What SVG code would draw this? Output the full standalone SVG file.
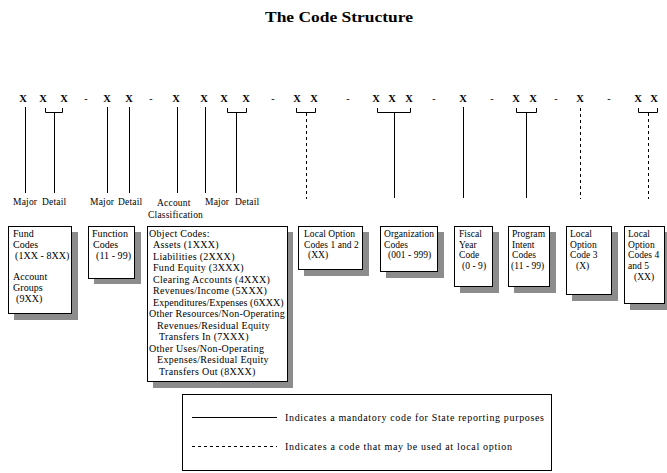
<svg xmlns="http://www.w3.org/2000/svg" width="667" height="473" viewBox="0 0 667 473">
<style>
text{font-family:"Liberation Serif","Times New Roman",serif;fill:#000}
.t{font-size:15px;font-weight:bold}
.x{font-size:10.5px;font-weight:bold;text-anchor:middle}
.d{font-size:10px;text-anchor:middle}
.lb{font-size:9.5px;letter-spacing:0.2px}
.bx{font-size:10px;letter-spacing:0.05px}
.rb{font-size:9.5px;letter-spacing:0.05px}
.ob{font-size:10px;letter-spacing:0.3px}
.lg{font-size:10px}
.box{fill:#fff;stroke:#000;stroke-width:1}
.sh{fill:#8c8c8c}
.s{stroke:#000;stroke-width:1;fill:none}
.ds{stroke:#000;stroke-width:1;fill:none;stroke-dasharray:3 3}
</style>
<rect width="667" height="473" fill="#fff"/>
<text class="t" x="339" y="22" text-anchor="middle" textLength="148" lengthAdjust="spacingAndGlyphs">The Code Structure</text>

<g id="code-row">
<text class="x" x="23" y="102">X</text><text class="x" x="43" y="102">X</text><text class="x" x="64" y="102">X</text>
<text class="d" x="86" y="102">-</text>
<text class="x" x="107" y="102">X</text><text class="x" x="129" y="102">X</text>
<text class="d" x="151" y="102">-</text>
<text class="x" x="176" y="102">X</text><text class="x" x="204" y="102">X</text><text class="x" x="224" y="102">X</text><text class="x" x="246" y="102">X</text>
<text class="d" x="273" y="102">-</text>
<text class="x" x="297" y="102">X</text><text class="x" x="314" y="102">X</text>
<text class="d" x="348" y="102">-</text>
<text class="x" x="376" y="102">X</text><text class="x" x="392" y="102">X</text><text class="x" x="409" y="102">X</text>
<text class="d" x="434" y="102">-</text>
<text class="x" x="463" y="102">X</text>
<text class="d" x="492" y="102">-</text>
<text class="x" x="516" y="102">X</text><text class="x" x="533" y="102">X</text>
<text class="d" x="556" y="102">-</text>
<text class="x" x="580" y="102">X</text>
<text class="d" x="609" y="102">-</text>
<text class="x" x="638" y="102">X</text><text class="x" x="654" y="102">X</text>
</g>

<g id="connectors">
<path class="s" d="M25.5 107V193"/>
<path class="s" d="M45.5 108V112.5H62.5V108M54.5 112.5V193"/>
<path class="s" d="M107.5 107V193"/>
<path class="s" d="M129.5 107V193"/>
<path class="s" d="M177.5 107V193"/>
<path class="s" d="M205.5 107V193"/>
<path class="s" d="M227.5 108V112.5H246.5V108M236.5 112.5V193"/>
<path class="s" d="M296.5 108V112.5H315.5V108"/>
<path class="ds" d="M306.5 113V199"/>
<path class="s" d="M377.5 108V112.5H410.5V108M394.5 112.5V198"/>
<path class="s" d="M463.5 107V198"/>
<path class="s" d="M516.5 108V112.5H536.5V108M526.5 112.5V198"/>
<path class="ds" d="M580.5 108V199"/>
<path class="s" d="M638.5 108V112.5H657.5V108"/>
<path class="ds" d="M648.5 113V199"/>
</g>

<g id="labels">
<text class="lb" x="13" y="205">Major</text><text class="lb" x="42" y="205">Detail</text>
<text class="lb" x="90" y="205">Major</text><text class="lb" x="118" y="205">Detail</text>
<text class="lb" x="157" y="206">Account</text><text class="lb" x="148" y="218">Classification</text>
<text class="lb" x="205" y="205">Major</text><text class="lb" x="235" y="205">Detail</text>
</g>

<g id="fund-codes">
<rect class="sh" x="14" y="232" width="64" height="88"/>
<rect class="box" x="8.5" y="226.5" width="63" height="87"/>
<text class="bx" x="13" y="236.5">Fund</text>
<text class="bx" x="13" y="247.5">Codes</text>
<text class="bx" x="15" y="258.5">(1XX - 8XX)</text>
<text class="bx" x="13" y="279.5">Account</text>
<text class="bx" x="13" y="290.5">Groups</text>
<text class="bx" x="16" y="301.5">(9XX)</text>
</g>

<g id="function-codes">
<rect class="sh" x="94" y="232" width="47" height="52"/>
<rect class="box" x="88.5" y="226.5" width="46" height="52"/>
<text class="bx" x="92" y="236.5">Function</text>
<text class="bx" x="93" y="247.5">Codes</text>
<text class="bx" x="96" y="258.5">(11 - 99)</text>
</g>

<g id="object-codes">
<rect class="sh" x="153" y="232" width="140" height="156"/>
<rect class="box" x="147.5" y="226.5" width="140" height="155"/>
<text class="ob" x="149" y="236.5">Object Codes:</text>
<text class="ob" x="153" y="248">Assets (1XXX)</text>
<text class="ob" x="153" y="259.5">Liabilities (2XXX)</text>
<text class="ob" x="153" y="271">Fund Equity (3XXX)</text>
<text class="ob" x="153" y="282.5">Clearing Accounts (4XXX)</text>
<text class="ob" x="153" y="294">Revenues/Income (5XXX)</text>
<text class="ob" x="153" y="305.5" textLength="131" lengthAdjust="spacing">Expenditures/Expenses (6XXX)</text>
<text class="ob" x="149" y="317" textLength="136" lengthAdjust="spacing">Other Resources/Non-Operating</text>
<text class="ob" x="157" y="328.5">Revenues/Residual Equity</text>
<text class="ob" x="159" y="340">Transfers In (7XXX)</text>
<text class="ob" x="149" y="351.5">Other Uses/Non-Operating</text>
<text class="ob" x="157" y="363">Expenses/Residual Equity</text>
<text class="ob" x="159" y="374.5">Transfers Out (8XXX)</text>
</g>

<g id="local-option-1-2">
<rect class="sh" x="304" y="232" width="65" height="44"/>
<rect class="box" x="298.5" y="226.5" width="64" height="43"/>
<text class="rb" x="304" y="236.5">Local Option</text>
<text class="rb" x="304" y="247.5">Codes 1 and 2</text>
<text class="rb" x="308" y="258">(XX)</text>
</g>

<g id="organization-codes">
<rect class="sh" x="386" y="232" width="58" height="46"/>
<rect class="box" x="380.5" y="226.5" width="57" height="45"/>
<text class="rb" x="384" y="236.5">Organization</text>
<text class="rb" x="384" y="247.5">Codes</text>
<text class="rb" x="388" y="258">(001 - 999)</text>
</g>

<g id="fiscal-year-code">
<rect class="sh" x="460" y="232" width="39" height="61"/>
<rect class="box" x="454.5" y="226.5" width="38" height="60"/>
<text class="rb" x="459" y="236.5">Fiscal</text>
<text class="rb" x="459" y="247.5">Year</text>
<text class="rb" x="459" y="258">Code</text>
<text class="rb" x="462" y="269">(0 - 9)</text>
</g>

<g id="program-intent-codes">
<rect class="sh" x="514" y="232" width="42" height="61"/>
<rect class="box" x="508.5" y="226.5" width="41" height="60"/>
<text class="rb" x="512" y="236.5">Program</text>
<text class="rb" x="512" y="247.5">Intent</text>
<text class="rb" x="512" y="258">Codes</text>
<text class="rb" x="511" y="269">(11 - 99)</text>
</g>

<g id="local-option-3">
<rect class="sh" x="572" y="232" width="46" height="69"/>
<rect class="box" x="566.5" y="226.5" width="45" height="68"/>
<text class="rb" x="570" y="236.5">Local</text>
<text class="rb" x="570" y="247.5">Option</text>
<text class="rb" x="570" y="258">Code 3</text>
<text class="rb" x="576" y="269">(X)</text>
</g>

<g id="local-option-4-5">
<rect class="sh" x="630" y="232" width="41" height="78"/>
<rect class="box" x="624.5" y="226.5" width="40" height="77"/>
<text class="rb" x="628" y="236.5">Local</text>
<text class="rb" x="628" y="247.5">Option</text>
<text class="rb" x="628" y="258">Codes 4</text>
<text class="rb" x="628" y="269">and 5</text>
<text class="rb" x="634" y="280">(XX)</text>
</g>

<g id="legend">
<rect class="box" x="182.5" y="394.5" width="369" height="76"/>
<path class="s" d="M192 417.5H277"/>
<path class="ds" d="M192 446.5H277" stroke-dasharray="4 4"/>
<text class="lg" x="285" y="421" textLength="259" lengthAdjust="spacing">Indicates a mandatory code for State reporting purposes</text>
<text class="lg" x="285" y="450" textLength="227" lengthAdjust="spacing">Indicates a code that may be used at local option</text>
</g>
</svg>
